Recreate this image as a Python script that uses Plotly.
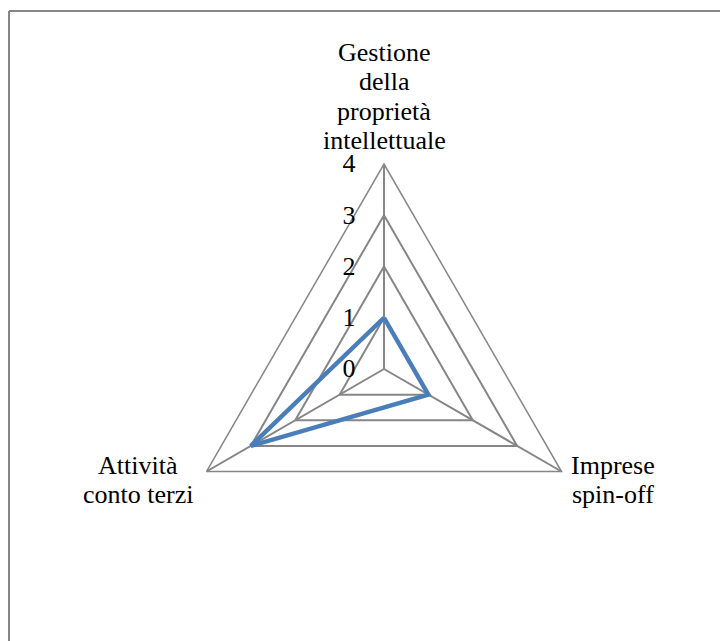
import plotly.graph_objects as go

categories = ["Gestione della proprietà intellettuale", "Imprese spin-off", "Attività conto terzi"]
category_lines = [
    ["Gestione", "della", "proprietà", "intellettuale"],
    ["Imprese", "spin-off"],
    ["Attività", "conto terzi"],
]
values = [1, 1, 3]
radial_ticks = [0, 1, 2, 3, 4]

# page has an 8px body margin, so the figure is drawn 8px smaller
OFF = 8
W, H = 728 - OFF, 641 - OFF
cx, cy, R = 384 - OFF, 369 - OFF, 205

fig = go.Figure()
fig.add_trace(go.Scatterpolar(
    r=values + values[:1],
    theta=categories + categories[:1],
    mode="lines",
    line=dict(color="#4A7EBB", width=4.5),
    showlegend=False,
    hoverinfo="skip",
))

# label block positions (viewport px): centre x, centre y of first line, line step
label_pos = [(384, 52.6, 29.4), (613, 465, 29), (138, 465, 29)]
annotations = []
for lines, (px, py, step) in zip(category_lines, label_pos):
    for i, txt in enumerate(lines):
        annotations.append(dict(
            text=txt, xref="paper", yref="paper",
            x=(px - OFF) / W, y=1 - (py + i * step - OFF) / H,
            xanchor="center", yanchor="middle", align="center", showarrow=False,
            font=dict(size=26, family="Liberation Serif", color="black"),
        ))

fig.update_layout(
    width=W, height=H,
    margin=dict(l=0, r=0, t=0, b=0),
    paper_bgcolor="white",
    font=dict(family="Liberation Serif, Times New Roman, serif", color="black"),
    polar=dict(
        bgcolor="white",
        gridshape="linear",
        domain=dict(x=[(cx - R) / W, (cx + R) / W], y=[(H - cy - R) / H, (H - cy + R) / H]),
        radialaxis=dict(
            range=[0, 4], tickvals=radial_ticks, angle=90, side="counterclockwise",
            tickangle=90,
            showline=False, gridcolor="#868686", gridwidth=1.5,
            ticks="outside", ticklen=19, tickcolor="rgba(0,0,0,0)",
            tickfont=dict(size=26, family="Liberation Serif", color="black"),
        ),
        angularaxis=dict(
            rotation=90, direction="clockwise",
            showline=True, linecolor="#868686", linewidth=1.5,
            gridcolor="#868686", gridwidth=1.5, ticks="",
            showticklabels=False,
        ),
    ),
    annotations=annotations,
    shapes=[
        dict(type="line", xref="paper", yref="paper", x0=(9 - OFF) / W, x1=1, y0=1 - (11 - OFF) / H, y1=1 - (11 - OFF) / H,
             line=dict(color="#868686", width=2)),
        dict(type="line", xref="paper", yref="paper", x0=(9 - OFF) / W, x1=(9 - OFF) / W, y0=0, y1=1 - (11 - OFF) / H,
             line=dict(color="#868686", width=2)),
    ],
)

fig.write_html("out.html")
